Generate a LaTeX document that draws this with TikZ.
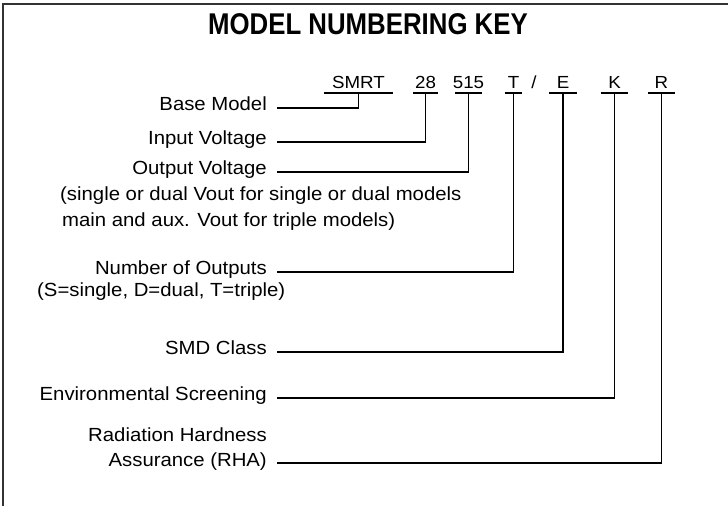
\documentclass[tikz,border=0pt]{standalone}
\usepackage{fontspec}
\setmainfont[FakeStretch=1.07]{Liberation Sans}
\newfontfamily\titlefont[FakeStretch=0.86]{Liberation Sans}
\begin{document}
\begin{tikzpicture}[x=1pt,y=-1pt,
	lbl/.style={anchor=base east,inner sep=0pt,font=\fontsize{19}{22}\selectfont},
	note/.style={anchor=base west,inner sep=0pt,font=\fontsize{19}{22}\selectfont},
	code/.style={anchor=base,inner sep=0pt,font=\fontsize{17.5}{20}\selectfont},
	link/.style={line width=1.8pt,line join=miter},
	uline/.style={line width=1.8pt}]
	\useasboundingbox (0,0) rectangle (728,506);
	%frame
	\draw[line width=1.3pt,black!80] (728,4) -- (3,4) -- (3,506);
	%title
	\node[anchor=base,inner sep=0pt,font=\titlefont\bfseries\fontsize{30}{34}\selectfont] (title) at (368,34) {MODEL NUMBERING KEY};
	
	%model number
	\foreach \n/\t/\xa/\xb in {smrt/SMRT/324/393,vin/28/413/438,vout/515/455/482,nout/T/505/522,smd/E/549/577,env/K/601/628,rha/R/648/675}{
		\node[code] (\n) at ({(\xa+\xb)/2},88) {\t};
		\draw[uline] (\xa,93) -- (\xb,93); %underline
		\coordinate (\n-u) at ({(\xa+\xb)/2},93);
	}
	\node[code] (slash) at (534,88) {/};
	
	%labels
	\node[lbl] (lbase) at (267,110) {Base Model};
	\node[lbl] (lvin) at (267,144) {Input Voltage};
	\node[lbl] (lvout) at (267,174) {Output Voltage};
	\node[note] (nvout1) at (60,200) {(single or dual Vout for single or dual models};
	\node[note] (nvout2) at (62,226) {main and aux. Vout for triple models)};
	\node[lbl] (lnout) at (267,274) {Number of Outputs};
	\node[note] (nnout) at (37,296) {(S=single, D=dual, T=triple)};
	\node[lbl] (lsmd) at (267,354) {SMD Class};
	\node[lbl] (lenv) at (267,400) {Environmental Screening};
	\node[lbl] (lrha1) at (267,441) {Radiation Hardness};
	\node[lbl] (lrha) at (267,466) {Assurance (RHA)};
	
	%connectors
	\draw[link] ([xshift=10pt,yshift=2pt]lbase.base east) -| (smrt-u);
	\draw[link] ([xshift=10pt,yshift=2pt]lvin.base east) -| (vin-u);
	\draw[link] ([xshift=10pt,yshift=2pt]lvout.base east) -| (vout-u);
	\draw[link] ([xshift=10pt,yshift=2pt]lnout.base east) -| (nout-u);
	\draw[link] ([xshift=10pt,yshift=2pt]lsmd.base east) -| (smd-u);
	\draw[link] ([xshift=10pt,yshift=2pt]lenv.base east) -| (env-u);
	\draw[link] ([xshift=10pt,yshift=3pt]lrha.base east) -| (rha-u);
\end{tikzpicture}
\end{document}
